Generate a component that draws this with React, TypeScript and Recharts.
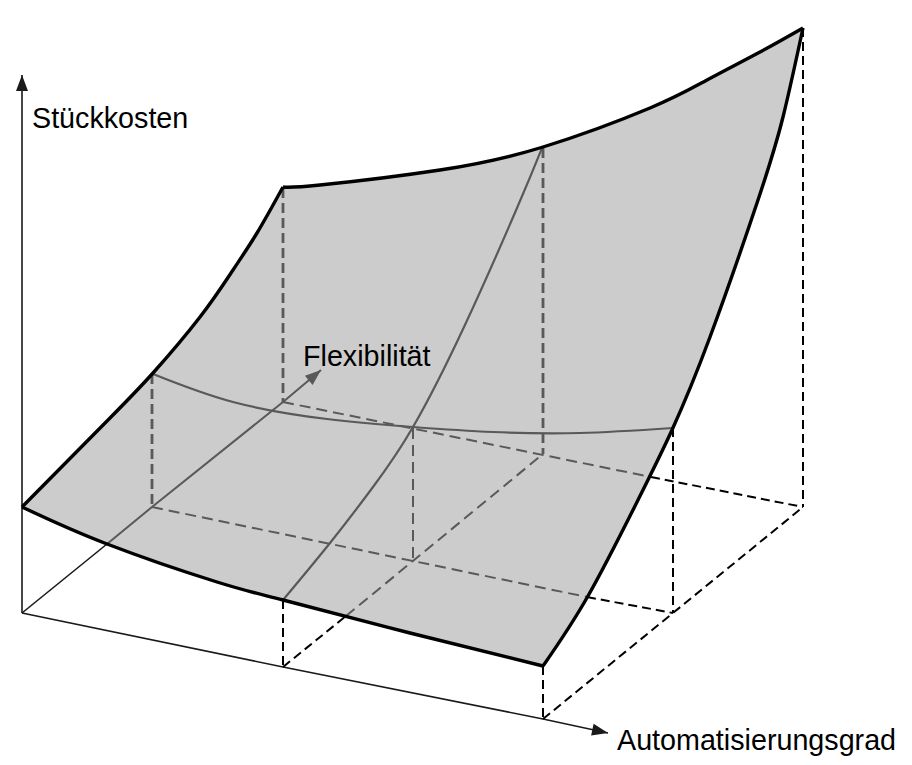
import React from 'react';
import { Area, ComposedChart, Line, ReferenceDot, Scatter, XAxis, YAxis } from 'recharts';

// surface outline (y grows downwards like in the drawing)
const surfaceX = [22, 67, 110, 153, 200, 233, 257, 273, 283, 320, 360, 440, 500, 543, 563, 588, 607, 623, 638, 651, 672, 693, 710, 727, 743, 758, 771, 783, 803];
const surfaceTop = [507, 463, 418, 373, 317, 270, 233, 203, 187, 185, 181, 170, 159, 147, 140, 132, 125, 119, 113, 108, 98, 87, 78, 69, 60, 52, 46, 39, 28];
const surfaceBottom = [507, 527, 545, 563, 578, 588, 594, 598, 600, 610, 620, 641, 656, 666, 635, 596, 562, 530, 500, 476, 430, 380, 337, 290, 243, 200, 158, 117, 28];

const leftEdge = [[22, 507], [110, 418], [153, 373], [200, 317], [233, 270], [257, 233], [283, 187]];
const backEdge = [[283, 187], [320, 185], [440, 170], [543, 147], [650, 108], [707, 80], [760, 52], [803, 28]];
const frontEdge = [[22, 507], [107, 544], [217, 582], [283, 600], [410, 633], [543, 666]];
const rightEdge = [[543, 666], [588, 596], [638, 500], [672, 430], [710, 337], [758, 200], [783, 117], [803, 28]];

// curves on the surface
const costCurveA = [[153, 374], [233, 402], [327, 419], [413, 427], [493, 432], [580, 433], [673, 428]];
const costCurveB = [[283, 600], [330, 543], [373, 487], [413, 427], [464, 327], [517, 208], [542, 148]];

// axes
const costAxis = [[22, 613], [22, 75]];
const automationAxis = [[22, 613], [283, 667], [543, 719], [608, 733]];
const flexAxisBelow = [[22, 613], [107, 544]];
const flexAxisOnSurface = [[107, 544], [152, 507], [283, 402], [321, 370]];

// dashed helper lines on the surface
const grayDrops = [
  [[152, 374], [152, 507]],
  [[283, 188], [283, 402]],
  [[543, 148], [543, 454]],
];
const grayThinDashes = [
  [[413, 428], [413, 560]],
  [[152, 507], [587, 597]],
  [[283, 402], [651, 477]],
  [[346, 616], [543, 454]],
];
// dashed helper lines outside of the surface
const blackDashes = [
  [[283, 600], [283, 667]],
  [[543, 666], [543, 719]],
  [[673, 428], [673, 613]],
  [[803, 28], [803, 507]],
  [[587, 597], [673, 613]],
  [[651, 477], [803, 507]],
  [[283, 667], [346, 616]],
  [[543, 719], [803, 507]],
];

const arrowTips = [
  { x: 22, y: 75, fromX: 22, fromY: 613, color: '#1a1a1a' },
  { x: 608, y: 733, fromX: 543, fromY: 719, color: '#1a1a1a' },
  { x: 321, y: 370, fromX: 283, fromY: 402, color: '#595959' },
];

const labels = [
  { x: 32, y: 118, text: 'Stückkosten' },
  { x: 303, y: 356, text: 'Flexibilität' },
  { x: 617, y: 740, text: 'Automatisierungsgrad' },
];

const surfaceData = surfaceX.map((x, i) => ({ x, range: [surfaceBottom[i], surfaceTop[i]] }));
const toPoints = (line: number[][]) => line.map(([x, y]) => ({ x, y }));

const ArrowHead = (props: any) => {
  const { cx, cy, payload } = props;
  const angle = (Math.atan2(payload.y - payload.fromY, payload.x - payload.fromX) * 180) / Math.PI;
  return (
    <polygon
      points="0,0 -16,-6 -16,6"
      fill={payload.color}
      transform={`translate(${cx} ${cy}) rotate(${angle})`}
    />
  );
};

const path = (key: string, line: number[][], color: string, width: number, dash?: string, curve: any = 'linear') => (
  <Line
    key={key}
    data={toPoints(line)}
    dataKey="y"
    type={curve}
    stroke={color}
    strokeWidth={width}
    strokeDasharray={dash}
    dot={false}
    activeDot={false}
    isAnimationActive={false}
    legendType="none"
  />
);

export default function App() {
  return (
    <div style={{ position: 'absolute', left: 0, top: 0, background: '#fff' }}>
      <ComposedChart width={912} height={765} data={surfaceData} margin={{ top: 0, right: 0, bottom: 0, left: 0 }}>
        <XAxis dataKey="x" type="number" domain={[0, 912]} hide />
        <YAxis type="number" domain={[0, 765]} reversed hide />

        {path('costAxis', costAxis, '#1a1a1a', 1.6)}
        {path('automationAxis', automationAxis, '#1a1a1a', 1.6)}
        {path('flexBelow', flexAxisBelow, '#1a1a1a', 1.6)}
        {blackDashes.map((d, i) => path(`black${i}`, d, '#000', 2, '9 5'))}

        <Area
          dataKey="range"
          type="linear"
          fill="#cccccc"
          fillOpacity={1}
          stroke="none"
          dot={false}
          activeDot={false}
          isAnimationActive={false}
        />

        {grayDrops.map((d, i) => path(`drop${i}`, d, '#595959', 2.8, '10 5'))}
        {grayThinDashes.map((d, i) => path(`thin${i}`, d, '#595959', 2, '11 6'))}
        {path('flexSurface', flexAxisOnSurface, '#595959', 2)}
        {path('curveA', costCurveA, '#595959', 2.2, undefined, 'natural')}
        {path('curveB', costCurveB, '#595959', 2.2, undefined, 'natural')}

        {path('leftEdge', leftEdge, '#000', 3.4, undefined, 'natural')}
        {path('backEdge', backEdge, '#000', 3.4, undefined, 'natural')}
        {path('frontEdge', frontEdge, '#000', 3.4, undefined, 'natural')}
        {path('rightEdge', rightEdge, '#000', 3.4, undefined, 'natural')}

        <Scatter data={arrowTips} dataKey="y" shape={ArrowHead} isAnimationActive={false} legendType="none" />

        {labels.map((l) => (
          <ReferenceDot
            key={l.text}
            x={l.x}
            y={l.y}
            r={0}
            stroke="none"
            ifOverflow="visible"
            label={{
              value: l.text,
              position: 'right',
              offset: 0,
              fill: '#000',
              fontSize: 28.7,
              fontFamily: '"Liberation Sans", Arial, sans-serif',
            }}
          />
        ))}
      </ComposedChart>
    </div>
  );
}
